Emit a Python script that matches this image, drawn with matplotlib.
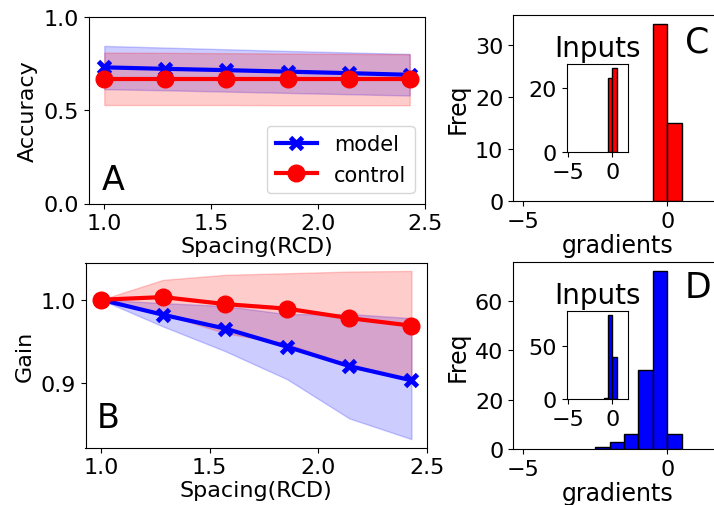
import numpy as np
import matplotlib
matplotlib.use("Agg")
import matplotlib.pyplot as plt

# ---------------- data ----------------
spacing = [1.0, 1.2857, 1.5714, 1.8571, 2.1429, 2.4286]

acc_model = [0.730, 0.722, 0.715, 0.707, 0.699, 0.690]
acc_model_lo = [0.613, 0.607, 0.600, 0.593, 0.586, 0.579]
acc_model_hi = [0.845, 0.836, 0.827, 0.818, 0.810, 0.802]
acc_control = [0.668, 0.668, 0.668, 0.668, 0.668, 0.668]
acc_control_lo = [0.528, 0.528, 0.528, 0.527, 0.527, 0.527]
acc_control_hi = [0.809, 0.808, 0.806, 0.804, 0.802, 0.800]

gain_model = [1.000, 0.982, 0.9655, 0.9437, 0.9206, 0.9036]
gain_model_lo = [1.000, 0.968, 0.9385, 0.9048, 0.858, 0.8333]
gain_model_hi = [1.000, 0.996, 0.9925, 0.9827, 0.983, 0.978]
gain_control = [1.000, 1.0032, 0.9948, 0.9893, 0.978, 0.969]
gain_control_lo = [1.000, 0.983, 0.960, 0.947, 0.922, 0.9035]
gain_control_hi = [1.000, 1.0238, 1.0298, 1.0317, 1.0337, 1.0345]

# histograms (bin edges of width 0.5, counts)
c_edges = [-0.5, 0.0, 0.5]
c_counts = [34, 15]
c_in_edges = [-0.5, 0.0, 0.5]
c_in_counts = [23, 26]

d_edges = [-2.5, -2.0, -1.5, -1.0, -0.5, 0.0, 0.5]
d_counts = [1, 3, 6, 32, 72, 6]
d_in_edges = [-1.0, -0.5, 0.0, 0.5]
d_in_counts = [1, 79, 40]

# ---------------- figure ----------------
W, H = 714, 506
fig = plt.figure(figsize=(W / 100, H / 100), dpi=100)


def box(l, t, r, b):
    return [l / W, (H - b) / H, (r - l) / W, (b - t) / H]


TICK = 16
LAB = 16

axA = fig.add_axes(box(89, 18, 425, 204.5))
axB = fig.add_axes(box(85.5, 263.5, 427, 448.5))
axC = fig.add_axes(box(513, 16, 722, 202))
axD = fig.add_axes(box(513, 263.3, 722, 450))
axCi = fig.add_axes(box(566.7, 65.3, 627.7, 153.3))
axDi = fig.add_axes(box(566.7, 312.3, 627.7, 400))

line_kw = dict(lw=3)

# Panel A
axA.fill_between(spacing, acc_model_lo, acc_model_hi, color="blue", alpha=0.2)
axA.fill_between(spacing, acc_control_lo, acc_control_hi, color="red", alpha=0.2)
axA.plot(spacing, acc_model, color="blue", marker="x", ms=9, mew=3.5, label="model", **line_kw)
axA.plot(spacing, acc_control, color="red", marker="o", ms=12, label="control", **line_kw)
axA.set_ylim(0, 1)
axA.set_yticks([0.0, 0.5, 1.0])
axA.set_xticks([1.0, 1.5, 2.0, 2.5])
axA.set_xlabel("Spacing(RCD)", fontsize=LAB, labelpad=2)
axA.set_ylabel("Accuracy", fontsize=LAB)
axA.tick_params(labelsize=TICK)
axA.legend(loc="lower right", fontsize=15)
axA.text(0.038, 0.078, "A", transform=axA.transAxes, fontsize=24, va="baseline")

# Panel B
axB.fill_between(spacing, gain_model_lo, gain_model_hi, color="blue", alpha=0.2)
axB.fill_between(spacing, gain_control_lo, gain_control_hi, color="red", alpha=0.2)
axB.plot(spacing, gain_model, color="blue", marker="x", ms=9, mew=3.5, **line_kw)
axB.plot(spacing, gain_control, color="red", marker="o", ms=12, **line_kw)
axB.set_yticks([0.9, 1.0])
axB.set_xticks([1.0, 1.5, 2.0, 2.5])
axB.set_xlabel("Spacing(RCD)", fontsize=LAB, labelpad=2)
axB.set_ylabel("Gain", fontsize=LAB)
axB.tick_params(labelsize=TICK)
axB.text(0.033, 0.109, "B", transform=axB.transAxes, fontsize=24, va="baseline")


def hist(ax, edges, counts, color):
    centers = [(edges[i] + edges[i + 1]) / 2 for i in range(len(counts))]
    ax.hist(centers, bins=edges, weights=counts, color=color, edgecolor="black", linewidth=1)


# Panel C
hist(axC, c_edges, c_counts, "red")
axC.set_xlim(-5.35, 1.9)
axC.set_xticks([-5, 0])
axC.set_yticks([0, 10, 20, 30])
axC.set_xlabel("gradients", fontsize=17, labelpad=2)
axC.set_ylabel("Freq", fontsize=17)
axC.tick_params(labelsize=TICK)
hist(axCi, c_in_edges, c_in_counts, "red")
axCi.set_xlim(-5.2, 1.73)
axCi.set_xticks([-5, 0])
axCi.set_yticks([0, 20])
axCi.tick_params(labelsize=TICK)
axCi.set_title("Inputs", fontsize=20)
fig.text(685 / W, 1 - 52.5 / H, "C", fontsize=25, va="baseline")

# Panel D
hist(axD, d_edges, d_counts, "blue")
axD.set_xlim(-5.35, 1.9)
axD.set_xticks([-5, 0])
axD.set_yticks([0, 20, 40, 60])
axD.set_xlabel("gradients", fontsize=17, labelpad=2)
axD.set_ylabel("Freq", fontsize=17)
axD.tick_params(labelsize=TICK)
hist(axDi, d_in_edges, d_in_counts, "blue")
axDi.set_xlim(-5.2, 1.73)
axDi.set_xticks([-5, 0])
axDi.set_yticks([0, 50])
axDi.tick_params(labelsize=TICK)
axDi.set_title("Inputs", fontsize=20)
fig.text(685 / W, 1 - 298.3 / H, "D", fontsize=25, va="baseline")

fig.savefig("out.png", dpi=100)
